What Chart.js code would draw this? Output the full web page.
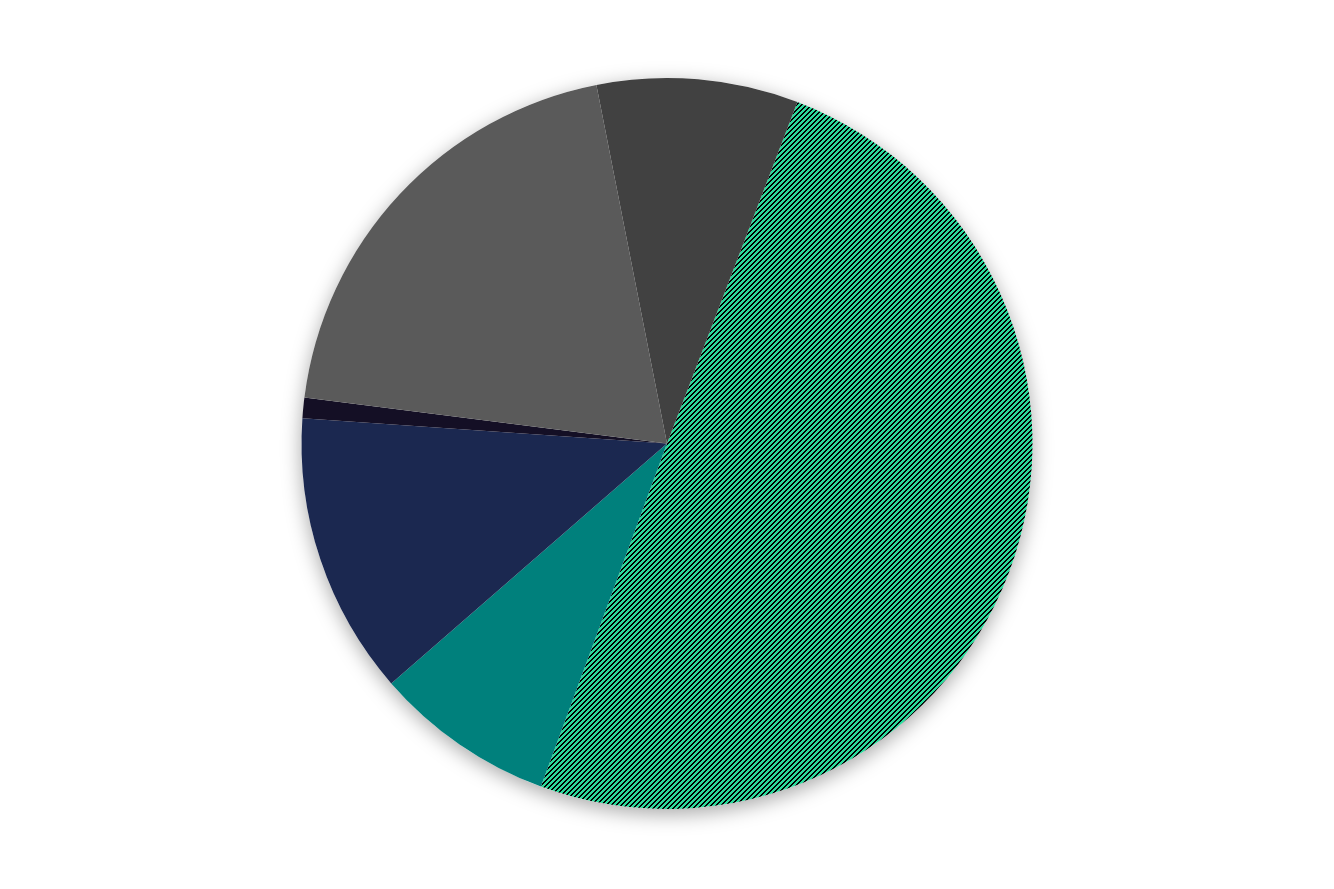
<!DOCTYPE html>
<html>
<head>
<meta charset="utf-8">
<script src="https://cdn.jsdelivr.net/npm/chart.js@4"></script>
<style>
    html, body { margin: 0; padding: 0; background: #fff; }
    #wrap { width: 1334px; height: 889px; }
</style>
</head>
<body>
<div id="wrap"><canvas id="pie"></canvas></div>
<script>
const labels = ['A', 'B', 'C', 'D', 'E', 'F'];
const values = [49.8, 8.0, 12.5, 0.9, 19.9, 8.9];
const colors = ['#2bd99b', '#00807c', '#1b2850', '#140f25', '#5a5a5a', '#414141'];

// diagonal hatch for the big slice, drawn pixel by pixel so it stays crisp
function hatch(bg, fg) {
    let c = document.createElement('canvas');
    c.width = 10;
    c.height = 10;
    let ctx = c.getContext('2d');
    ctx.fillStyle = bg;
    ctx.fillRect(0, 0, 10, 10);
    ctx.fillStyle = fg;
    for (let y = 0; y < 10; y++) {
        for (let x = 0; x < 10; x++) {
            if ((x + y) % 5 < 2) ctx.fillRect(x, y, 1, 1);
        }
    }
    return ctx.createPattern(c, 'repeat');
}

const fills = colors.map((c, i) => i === 0 ? hatch(c, '#000') : c);

const shadow = {
    id: 'shadow',
    beforeDatasetsDraw(chart) {
        let arc = chart.getDatasetMeta(0).data[0];
        if (!arc) return;
        let ctx = chart.ctx;
        ctx.save();
        ctx.shadowColor = 'rgba(0,0,0,0.35)';
        ctx.shadowBlur = 20;
        ctx.shadowOffsetY = 5;
        ctx.fillStyle = '#fff';
        ctx.beginPath();
        ctx.arc(arc.x, arc.y, arc.outerRadius, 0, Math.PI * 2);
        ctx.fill();
        ctx.restore();
    }
};

new Chart(document.getElementById('pie'), {
    type: 'pie',
    data: {
        labels: labels,
        datasets: [{
            data: values,
            backgroundColor: fills,
            borderWidth: 0
        }]
    },
    options: {
        responsive: true,
        maintainAspectRatio: false,
        animation: false,
        rotation: 20.9,
        layout: { padding: { top: 78, bottom: 80 } },
        plugins: {
            legend: { display: false },
            tooltip: { enabled: false }
        }
    },
    plugins: [shadow]
});
</script>
</body>
</html>
